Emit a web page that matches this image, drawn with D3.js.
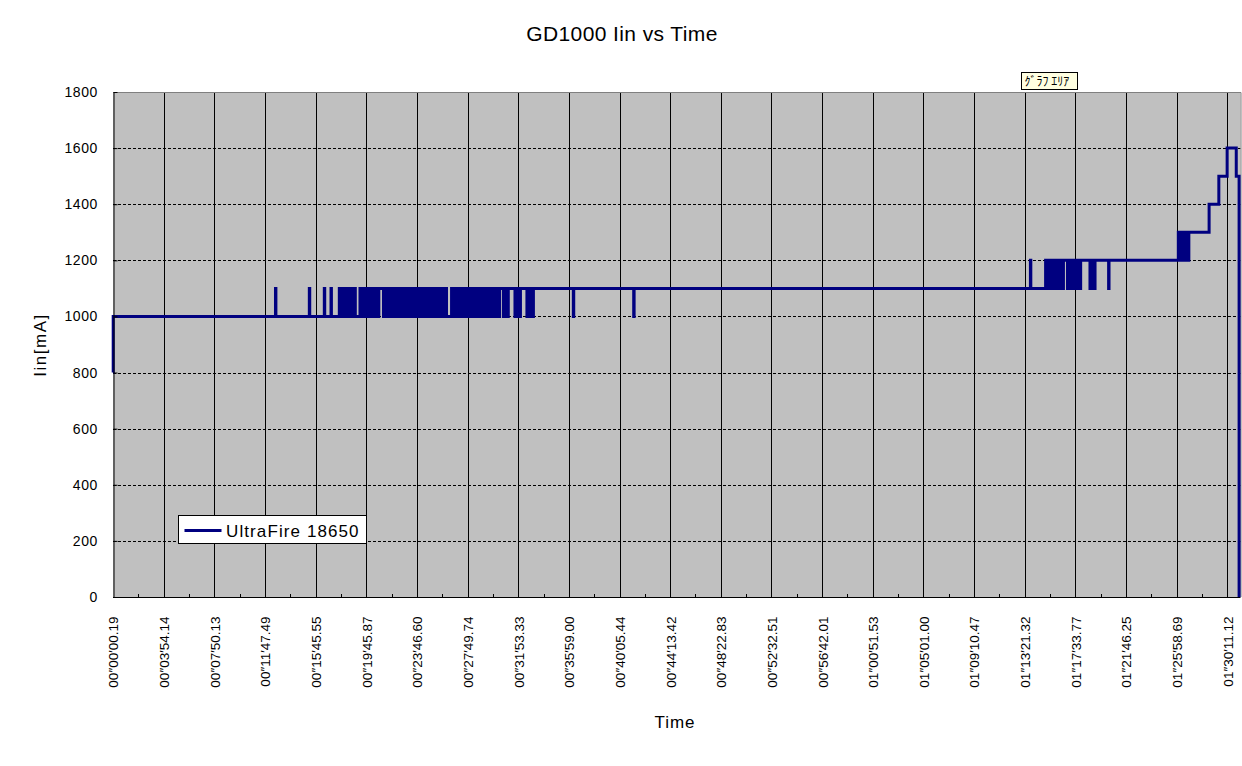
<!DOCTYPE html>
<html><head><meta charset="utf-8">
<script src="https://cdn.jsdelivr.net/npm/d3@7"></script>
<style>
body{margin:0;background:#fff;}
svg{display:block;font-family:"Liberation Sans",Arial,sans-serif;}
</style>
</head><body>
<svg id="chart" width="1242" height="766"></svg>
<script>
// ---------------- data ----------------
const chartTitle = "GD1000 Iin vs Time";
const xTitle = "Time";
const yTitle = "Iin[mA]";
const seriesName = "UltraFire 18650";
const tooltipText = "ｸﾞﾗﾌ ｴﾘｱ";

// category labels, one every samplesPerLabel samples
const tickLabels = [
  "00″00′00.19","00″03′54.14","00″07′50.13","00″11′47.49","00″15′45.55",
  "00″19′45.87","00″23′46.60","00″27′49.74","00″31′53.33","00″35′59.00",
  "00″40′05.44","00″44′13.42","00″48′22.83","00″52′32.51","00″56′42.01",
  "01″00′51.53","01″05′01.00","01″09′10.47","01″13′21.32","01″17′33.77",
  "01″21′46.25","01″25′58.69","01″30′11.12"
];
const samplesPerLabel = 250;
const totalSamples = 5560;
const yTicks = [0,200,400,600,800,1000,1200,1400,1600,1800];

// sample index where the current changes, and the new value (mA)
const changeIdx = [
  0, 1,
  802, 804, 969, 971, 1043, 1045, 1076, 1078,
  1117, 1128, 1140, 1153, 1165, 1175, 1186, 1196,
  1219, 1231, 1241, 1254, 1266, 1278, 1288, 1301, 1312,
  1335, 1346, 1358, 1368, 1381, 1390, 1402, 1414, 1423, 1436, 1445, 1458, 1469, 1479, 1491,
  1501, 1514, 1523, 1536, 1546, 1558, 1568, 1580, 1590, 1603, 1612, 1625, 1634, 1646,
  1671, 1682, 1693, 1703, 1714, 1725, 1736, 1747, 1757, 1768, 1779, 1790, 1800, 1811,
  1822, 1833, 1843, 1854, 1865, 1876, 1886, 1897, 1908,
  1927, 1935, 1943, 1951,
  1984, 1994, 2004, 2011,
  2043, 2053, 2066, 2075,
  2272, 2274, 2570, 2572,
  4528, 4530,
  4603, 4614, 4625, 4636, 4647, 4658, 4669, 4680, 4691,
  4711, 4721, 4731, 4741, 4751, 4760, 4768, 4776,
  4822, 4831, 4840, 4847,
  4914, 4916,
  5258, 5267, 5276, 5285, 5293, 5302, 5310,
  5410, 5458, 5499, 5544, 5558
];
const changeVal = [
  800, 1000,
  1100, 1000, 1100, 1000, 1100, 1000, 1100, 1000,
  1100, 1000, 1100, 1000, 1100, 1000, 1100, 1000,
  1100, 1000, 1100, 1000, 1100, 1000, 1100, 1000, 1100,
  1000, 1100, 1000, 1100, 1000, 1100, 1000, 1100, 1000, 1100, 1000, 1100, 1000, 1100, 1000,
  1100, 1000, 1100, 1000, 1100, 1000, 1100, 1000, 1100, 1000, 1100, 1000, 1100, 1000,
  1100, 1000, 1100, 1000, 1100, 1000, 1100, 1000, 1100, 1000, 1100, 1000, 1100, 1000,
  1100, 1000, 1100, 1000, 1100, 1000, 1100, 1000, 1100,
  1000, 1100, 1000, 1100,
  1000, 1100, 1000, 1100,
  1000, 1100, 1000, 1100,
  1000, 1100, 1000, 1100,
  1200, 1100,
  1200, 1100, 1200, 1100, 1200, 1100, 1200, 1100, 1200,
  1100, 1200, 1100, 1200, 1100, 1200, 1100, 1200,
  1100, 1200, 1100, 1200,
  1100, 1200,
  1300, 1200, 1300, 1200, 1300, 1200, 1300,
  1400, 1500, 1600, 1500, 0
];

// ---------------- drawing ----------------
const svg = d3.select("#chart");
const W = 1242, H = 766;
const plot = {left: 113, right: 1239.5, top: 92, bottom: 597};

const x = d3.scaleLinear().domain([0, totalSamples]).range([plot.left, plot.right]);
const y = d3.scaleLinear().domain([0, 1800]).range([plot.bottom, plot.top]);

svg.append("rect").attr("width", W).attr("height", H).attr("fill", "#fff");

// plot area
svg.append("rect")
  .attr("x", plot.left).attr("y", plot.top)
  .attr("width", plot.right - plot.left + 1).attr("height", plot.bottom - plot.top)
  .attr("fill", "#C0C0C0");

const labelIdx = tickLabels.map((d, i) => i * samplesPerLabel);

// vertical gridlines
svg.append("g").selectAll("line").data(labelIdx.slice(1)).join("line")
  .attr("x1", d => Math.round(x(d)) + 0.5).attr("x2", d => Math.round(x(d)) + 0.5)
  .attr("y1", plot.top).attr("y2", plot.bottom)
  .attr("stroke", "#000").attr("stroke-width", 1);

// horizontal dashed gridlines
svg.append("g").selectAll("line").data(yTicks.filter(v => v > 0 && v < 1800)).join("line")
  .attr("x1", plot.left).attr("x2", plot.right + 1)
  .attr("y1", d => Math.round(y(d)) + 0.5).attr("y2", d => Math.round(y(d)) + 0.5)
  .attr("stroke", "#000").attr("stroke-width", 1).attr("stroke-dasharray", "3,2");

// top / right border of plot area
svg.append("path")
  .attr("d", `M${plot.left},${plot.top + 0.5}H${plot.right + 1.5}V${plot.bottom}`)
  .attr("fill", "none").attr("stroke", "#808080");

// data line
const points = changeIdx.map((d, i) => [d, changeVal[i]]);
const line = d3.line().x(d => x(d[0])).y(d => y(d[1])).curve(d3.curveStepAfter);
svg.append("path").datum(points)
  .attr("d", line)
  .attr("fill", "none").attr("stroke", "#000080").attr("stroke-width", 3)
  .attr("stroke-linejoin", "miter");

// y axis
const yAxis = d3.axisLeft(y).tickValues(yTicks).tickFormat(d3.format("d"))
  .tickSizeInner(-4).tickSizeOuter(0).tickPadding(15.5);
const gy = svg.append("g").attr("transform", `translate(${plot.left + 0.5},0)`).call(yAxis);
gy.select(".domain").attr("stroke", "#000");
gy.selectAll(".tick line").attr("stroke", "#000");
gy.selectAll("text").attr("font-size", 14).attr("fill", "#000")
  .attr("font-family", '"Liberation Sans",Arial,sans-serif').attr("letter-spacing", 0.6);

// x axis (category axis, minor ticks between labels)
const minorIdx = labelIdx.map(d => d + samplesPerLabel / 2).filter(d => d < totalSamples);
svg.append("g").selectAll("line").data(minorIdx).join("line")
  .attr("x1", d => Math.round(x(d)) + 0.5).attr("x2", d => Math.round(x(d)) + 0.5)
  .attr("y1", plot.bottom - 3).attr("y2", plot.bottom)
  .attr("stroke", "#000");

const xAxis = d3.axisBottom(x).tickValues(labelIdx).tickFormat((d, i) => tickLabels[i])
  .tickSizeInner(0).tickSizeOuter(0).tickPadding(0);
const gx = svg.append("g").attr("transform", `translate(0,${plot.bottom + 0.5})`).call(xAxis);
gx.select(".domain").attr("stroke", "#000").attr("d", `M${plot.left},0H${plot.right + 1}`);
gx.selectAll("text")
  .attr("font-size", 13.5).attr("fill", "#000")
  .attr("font-family", '"Liberation Sans",Arial,sans-serif')
  .attr("text-anchor", "end")
  .attr("transform", "rotate(-90)")
  .attr("x", -19).attr("y", 0).attr("dy", "0.36em");

// titles
svg.append("text").attr("x", 622).attr("y", 41).attr("text-anchor", "middle")
  .attr("font-size", 21).attr("letter-spacing", 0.4).attr("fill", "#000").text(chartTitle);
svg.append("text").attr("x", 675).attr("y", 728).attr("text-anchor", "middle")
  .attr("font-size", 17).attr("letter-spacing", 1).attr("fill", "#000").text(xTitle);
svg.append("text").attr("transform", "translate(46,345) rotate(-90)").attr("text-anchor", "middle")
  .attr("font-size", 17).attr("letter-spacing", 1.5).attr("fill", "#000").text(yTitle);

// legend
const lg = svg.append("g").attr("transform", "translate(178.5,515.5)");
lg.append("rect").attr("width", 188).attr("height", 28).attr("fill", "#fff").attr("stroke", "#000");
lg.append("line").attr("x1", 6).attr("x2", 43).attr("y1", 15).attr("y2", 15)
  .attr("stroke", "#000080").attr("stroke-width", 3);
lg.append("text").attr("x", 47.5).attr("y", 21).attr("font-size", 17).attr("letter-spacing", 1.1)
  .attr("fill", "#000").text(seriesName);

// tooltip
const tg = svg.append("g").attr("transform", "translate(1021.5,72.5)");
tg.append("rect").attr("width", 56).attr("height", 17).attr("fill", "#FFFFE1").attr("stroke", "#000");
tg.append("text").attr("x", 3).attr("y", 13).attr("font-size", 12)
  .attr("font-family", '"Noto Sans CJK JP",sans-serif').attr("fill", "#000").text(tooltipText);
</script>
</body></html>
